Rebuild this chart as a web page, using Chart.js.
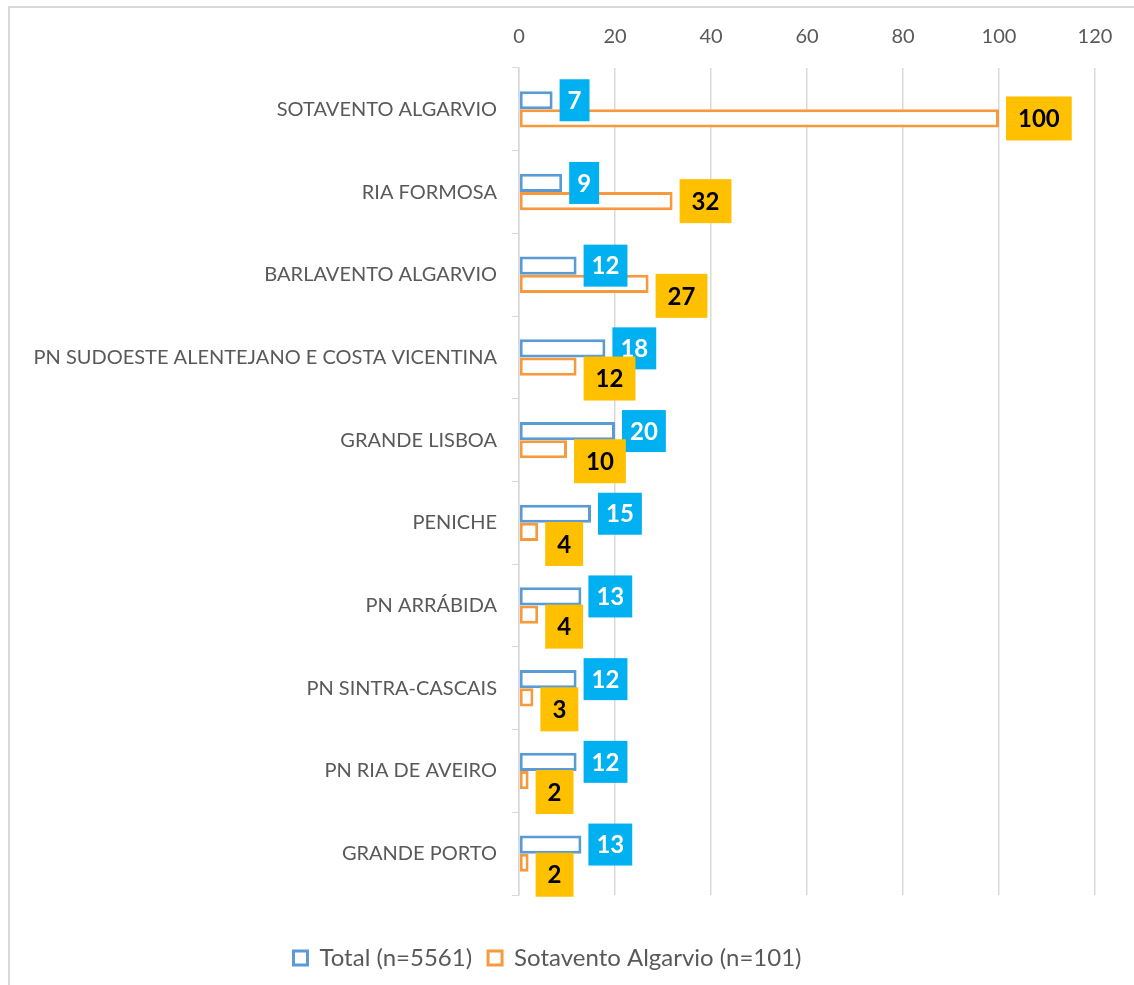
<!DOCTYPE html>
<html lang="pt">
<head>
    <meta charset="UTF-8">
    <title>Total vs Sotavento Algarvio</title>
    <script src="https://cdn.jsdelivr.net/npm/chart.js"></script>
    <style>
        body {
            margin: 0;
            background-color: #fff;
            overflow: hidden;
        }

        /* moldura cinzenta do gráfico */
        .moldura {
            position: absolute;
            left: 8px;
            top: 6px;
            width: 1200px;
            height: 1100px;
            border-left: 2px solid #d9d9d9;
            border-top: 2px solid #d9d9d9;
        }

        .grafico {
            position: absolute;
            left: 0;
            top: 0;
            width: 1134px;
            height: 985px;
        }
    </style>
</head>
<body>

    <div class="moldura"></div>
    <div class="grafico">
        <canvas id="barChart"></canvas>
    </div>

    <script>
        // Dados
        var categorias = [
            'SOTAVENTO ALGARVIO',
            'RIA FORMOSA',
            'BARLAVENTO ALGARVIO',
            'PN SUDOESTE ALENTEJANO E COSTA VICENTINA',
            'GRANDE LISBOA',
            'PENICHE',
            'PN ARRÁBIDA',
            'PN SINTRA-CASCAIS',
            'PN RIA DE AVEIRO',
            'GRANDE PORTO'
        ];
        var total = [7, 9, 12, 18, 20, 15, 13, 12, 12, 13];
        var sotavento = [100, 32, 27, 12, 10, 4, 4, 3, 2, 2];
        var series = ['Total (n=5561)', 'Sotavento Algarvio (n=101)'];
        var eixoMin = 0, eixoMax = 120, eixoPasso = 20;

        var fonte = 'Lato';

        // Rótulos de dados em caixas coloridas
        var rotulos = {
            id: 'rotulos',
            afterDatasetsDraw: function (chart) {
                var ctx = chart.ctx;
                var m0 = chart.getDatasetMeta(0);
                var m1 = chart.getDatasetMeta(1);
                ctx.save();
                ctx.font = 'bold 24px ' + fonte;
                ctx.textAlign = 'center';
                ctx.textBaseline = 'middle';
                m0.data.forEach(function (bar0, i) {
                    var bar1 = m1.data[i];
                    var t0 = String(total[i]);
                    var t1 = String(sotavento[i]);

                    var w0 = ctx.measureText(t0).width + 16, h0 = 42;
                    var x0 = bar0.x + 7, y0 = bar0.y - h0 / 2;
                    var w1 = ctx.measureText(t1).width + 24, h1 = 44;
                    var x1 = bar1.x + 7;
                    // empurra a caixa laranja para baixo quando fica perto da azul
                    var dy = (x1 - (x0 + w0) < 60) ? 12 : 0;
                    var y1 = bar1.y - h1 / 2 + dy;

                    ctx.fillStyle = '#00B0F0';
                    ctx.fillRect(x0, y0, w0, h0);
                    ctx.fillStyle = '#ffffff';
                    ctx.fillText(t0, x0 + w0 / 2, y0 + h0 / 2 + 1);

                    ctx.fillStyle = '#FFC000';
                    ctx.fillRect(x1, y1, w1, h1);
                    ctx.fillStyle = '#000000';
                    ctx.fillText(t1, x1 + w1 / 2, y1 + h1 / 2 + 1);
                });
                ctx.restore();
            }
        };

        var ctx1 = document.getElementById('barChart').getContext('2d');
        var barChart = new Chart(ctx1, {
            type: 'bar',
            data: {
                labels: categorias,
                datasets: [{
                    label: series[0],
                    data: total,
                    backgroundColor: '#ffffff',
                    borderColor: '#5B9BD5',
                    borderWidth: 3,
                    borderSkipped: false,
                    categoryPercentage: 0.44,
                    barPercentage: 1.0
                }, {
                    label: series[1],
                    data: sotavento,
                    backgroundColor: '#ffffff',
                    borderColor: '#F79A3E',
                    borderWidth: 3,
                    borderSkipped: false,
                    categoryPercentage: 0.44,
                    barPercentage: 1.0
                }]
            },
            options: {
                indexAxis: 'y',
                responsive: true,
                maintainAspectRatio: false,
                animation: false,
                layout: {
                    padding: { left: 0, right: 39, top: 0, bottom: 5 }
                },
                scales: {
                    x: {
                        position: 'top',
                        min: eixoMin,
                        max: eixoMax,
                        ticks: {
                            stepSize: eixoPasso,
                            color: '#595959',
                            font: { family: fonte, size: 20 },
                            padding: 19
                        },
                        grid: {
                            color: '#d9d9d9',
                            lineWidth: 1.5,
                            drawTicks: false
                        },
                        border: { display: false },
                        afterFit: function (s) { s.height = 68; }
                    },
                    y: {
                        ticks: {
                            color: '#595959',
                            font: { family: fonte, size: 20 },
                            padding: 15
                        },
                        grid: {
                            drawOnChartArea: false,
                            drawTicks: true,
                            tickLength: 7,
                            color: '#d9d9d9',
                            offset: true
                        },
                        border: { display: true, color: '#d9d9d9', width: 1.5 },
                        afterFit: function (s) { s.width = 519; }
                    }
                },
                plugins: {
                    legend: {
                        position: 'bottom',
                        title: {
                            display: true,
                            text: ' ',
                            font: { size: 1, lineHeight: 1 },
                            padding: { top: 34, bottom: 0 }
                        },
                        labels: {
                            boxWidth: 14,
                            boxHeight: 14,
                            padding: 16,
                            color: '#595959',
                            font: { family: fonte, size: 24 }
                        }
                    },
                    tooltip: { enabled: false }
                }
            },
            plugins: [rotulos]
        });
    </script>

</body>
</html>
